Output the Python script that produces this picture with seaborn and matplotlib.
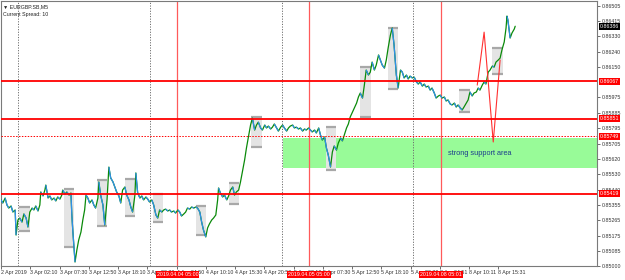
import numpy as np
import pandas as pd
import matplotlib
matplotlib.use("Agg")
import matplotlib.pyplot as plt
import matplotlib.transforms as mtransforms
from matplotlib.patches import Rectangle
from matplotlib.collections import LineCollection
import seaborn as sns

# ---------------- data (x = M5 bar index, y = EURGBP price) ----------------
bars = [0, 4, 9, 13, 17, 22, 26, 31, 33, 37, 41, 46, 50, 55, 59, 63, 68, 72, 76, 81,
        85, 87, 92, 96, 98, 103, 107, 111, 116, 120, 124, 129, 133, 135, 140, 144, 149, 153, 155, 157,
        162, 166, 170, 175, 179, 183, 186, 190, 194, 199, 203, 207, 212, 214, 218, 223, 227, 232, 236, 240,
        245, 249, 253, 258, 262, 266, 271, 275, 280, 284, 288, 293, 295, 299, 304, 308, 312, 317, 321, 325,
        330, 334, 339, 343, 347, 352, 356, 360, 365, 369, 373, 378, 382, 387, 391, 395, 400, 404, 408, 413,
        417, 422, 426, 430, 435, 439, 443, 448, 452, 456, 461, 465, 470, 474, 476, 480, 485, 489, 494, 498,
        502, 507, 511, 515, 520, 524, 529, 533, 537, 542, 546, 550, 555, 559, 563, 568, 572, 577, 581, 585,
        590, 594, 598, 603, 607, 612, 616, 620, 625, 629, 633, 638, 642, 646, 651, 655, 660, 664, 668, 673,
        677, 681, 686, 690, 695, 699, 703, 708, 712, 716, 721, 725, 729, 734, 738, 743, 747, 751, 756, 760,
        764, 769, 773, 778, 782, 786, 791, 795, 799, 804, 808, 812, 817, 821, 826, 830, 834, 839, 843, 847,
        852, 856, 860, 865, 869, 874, 878, 882, 887, 891, 895, 900, 904, 909, 913, 917, 922, 926, 930, 935,
        939, 943, 948, 952, 957, 961, 965, 970, 974, 978, 983, 987, 992, 996, 1000, 1005, 1009, 1013, 1018, 1022,
        1026, 1031, 1035, 1040, 1044, 1048, 1053, 1057, 1061, 1066, 1070, 1075, 1079, 1083, 1088, 1092, 1096, 1101, 1105, 1107,
        1109, 1114, 1118, 1123, 1125]
prices = [0.85382, 0.85364, 0.85393, 0.85353, 0.85335, 0.85347, 0.85312, 0.85324, 0.85179, 0.85266,
          0.85277, 0.85254, 0.85301, 0.85277, 0.85225, 0.85312, 0.85335, 0.85324, 0.85347, 0.85318,
          0.85353, 0.85428, 0.85405, 0.85439, 0.85468, 0.85393, 0.85405, 0.85382, 0.85393, 0.85376,
          0.85399, 0.85387, 0.85410, 0.85439, 0.85416, 0.85428, 0.85410, 0.85422, 0.85295, 0.85208,
          0.85023, 0.85093, 0.85150, 0.85197, 0.85266, 0.85324, 0.85410, 0.85393, 0.85364, 0.85382,
          0.85353, 0.85335, 0.85393, 0.85486, 0.85410, 0.85353, 0.85237, 0.85382, 0.85572, 0.85509,
          0.85486, 0.85457, 0.85428, 0.85405, 0.85364, 0.85439, 0.85457, 0.85410, 0.85382, 0.85341,
          0.85312, 0.85410, 0.85538, 0.85422, 0.85393, 0.85405, 0.85382, 0.85399, 0.85387, 0.85370,
          0.85382, 0.85353, 0.85295, 0.85277, 0.85324, 0.85312, 0.85324, 0.85329, 0.85318, 0.85324,
          0.85312, 0.85318, 0.85306, 0.85324, 0.85312, 0.85289, 0.85301, 0.85312, 0.85335, 0.85329,
          0.85341, 0.85335, 0.85341, 0.85335, 0.85312, 0.85254, 0.85208, 0.85168, 0.85220, 0.85243,
          0.85266, 0.85277, 0.85295, 0.85382, 0.85451, 0.85422, 0.85399, 0.85410, 0.85382, 0.85405,
          0.85439, 0.85457, 0.85410, 0.85428, 0.85439, 0.85486, 0.85555, 0.85613, 0.85682, 0.85757,
          0.85815, 0.85855, 0.85786, 0.85815, 0.85832, 0.85798, 0.85786, 0.85815, 0.85798, 0.85809,
          0.85792, 0.85803, 0.85821, 0.85798, 0.85780, 0.85803, 0.85815, 0.85798, 0.85780, 0.85798,
          0.85809, 0.85815, 0.85798, 0.85803, 0.85792, 0.85798, 0.85780, 0.85792, 0.85786, 0.85798,
          0.85786, 0.85775, 0.85786, 0.85769, 0.85798, 0.85757, 0.85728, 0.85746, 0.85682, 0.85642,
          0.85572, 0.85659, 0.85694, 0.85670, 0.85711, 0.85740, 0.85723, 0.85757, 0.85798, 0.85821,
          0.85861, 0.85890, 0.85913, 0.85942, 0.85977, 0.86000, 0.85971, 0.86046, 0.86133, 0.86104,
          0.86121, 0.86179, 0.86133, 0.86162, 0.86220, 0.86191, 0.86162, 0.86144, 0.86191, 0.86260,
          0.86335, 0.86376, 0.86277, 0.86104, 0.86029, 0.86133, 0.86121, 0.86087, 0.86104, 0.86081,
          0.86098, 0.86087, 0.86092, 0.86064, 0.86052, 0.86064, 0.86040, 0.86052, 0.86035, 0.86040,
          0.86017, 0.86029, 0.86000, 0.85971, 0.85983, 0.85988, 0.85971, 0.85977, 0.85954, 0.85960,
          0.85936, 0.85931, 0.85942, 0.85919, 0.85931, 0.85913, 0.85902, 0.85919, 0.85942, 0.85960,
          0.86006, 0.85983, 0.86000, 0.86006, 0.86029, 0.86017, 0.86046, 0.86064, 0.86052, 0.86121,
          0.86133, 0.86156, 0.86150, 0.86179, 0.86191, 0.86202, 0.86249, 0.86295, 0.86376, 0.86445,
          0.86422, 0.86318, 0.86347, 0.86370, 0.86386]

# session range boxes: start bar, end bar, high, low
box_start = [39, 138, 210, 271, 332, 426, 498, 546, 712, 786, 847, 1002, 1075]
box_end = [63, 159, 232, 293, 354, 448, 520, 572, 734, 810, 869, 1026, 1099]
box_high = [0.85341, 0.85445, 0.85497, 0.85503, 0.85416, 0.85347, 0.85480, 0.85861, 0.85803, 0.86150, 0.86376, 0.86017, 0.86260]
box_low = [0.85202, 0.85110, 0.85231, 0.85289, 0.85254, 0.85179, 0.85358, 0.85688, 0.85555, 0.85861, 0.86023, 0.85890, 0.86110]

# horizontal levels
level_prices = [0.86067, 0.85851, 0.85419]
level_labels = ["0.86067", "0.85851", "0.85419"]
dotted_level = 0.85749
current_price = 0.86386

# support zone
zone_start, zone_end = 618, 1304
zone_low, zone_high = 0.85566, 0.85740
zone_text = "strong support area"
zone_text_bar = 1048

# vertical lines
day_separators = [38, 326, 614, 902]
marker_bars = [386, 674, 962]
marker_labels = ["2019.04.04 05:00", "2019.04.05 05:00", "2019.04.08 05:01"]

# hand drawn red lines
red_line_bars = [1042, 1057, 1077, 1092]
red_line_prices = [0.86046, 0.86352, 0.85717, 0.86191]

# axes ticks
x_tick_bars = [i * 64 for i in range(18)]
x_tick_labels = ["2 Apr 2019", "3 Apr 02:10", "3 Apr 07:30", "3 Apr 12:50", "3 Apr 18:10",
                 "3 Apr 23:30", "4 Apr 04:50", "4 Apr 10:10", "4 Apr 15:30", "4 Apr 20:50",
                 "5 Apr 02:10", "5 Apr 07:30", "5 Apr 12:50", "5 Apr 18:10", "5 Apr 23:30",
                 "8 Apr 04:51", "8 Apr 10:11", "8 Apr 15:31"]
y_ticks = [0.85000, 0.85085, 0.85175, 0.85265, 0.85355, 0.85440, 0.85530, 0.85620, 0.85705,
           0.85795, 0.85885, 0.85975, 0.86150, 0.86240, 0.86330, 0.86415, 0.86505]

# ---------------- drawing ----------------
sns.set_style("white")
plt.rcParams["font.family"] = ["Liberation Sans", "DejaVu Sans"]
FS = 3.8

fig = plt.figure(figsize=(6.25, 2.8), dpi=100)
ax = fig.add_axes([0.0016, 0.05, 0.9536, 0.9464])

df = pd.DataFrame({"bar": bars, "price": prices})

# support zone
ax.add_patch(Rectangle((zone_start, zone_low), zone_end - zone_start, zone_high - zone_low,
                       facecolor="#98FB98", edgecolor="none", zorder=1))
ax.text(zone_text_bar, (zone_low + zone_high) / 2, zone_text,
        fontsize=5.3, color="#1C3D8C", ha="center", va="center", zorder=2)

# session boxes
for s, e, hi, lo in zip(box_start, box_end, box_high, box_low):
    ax.add_patch(Rectangle((s, lo), e - s, hi - lo, facecolor="#E4E4E4", edgecolor="none", zorder=1.2))
    ax.plot([s, e], [hi, hi], color="#A8A8A8", lw=1.6, zorder=1.3, solid_capstyle="butt")
    ax.plot([s, e], [lo, lo], color="#A8A8A8", lw=1.6, zorder=1.3, solid_capstyle="butt")

# separators and markers
for b in day_separators:
    ax.axvline(b, color="#6E6E6E", lw=0.7, ls=(0, (1.2, 1.5)), zorder=1.5)
for b in marker_bars:
    ax.axvline(b, color="#FF5A5A", lw=0.9, zorder=1.5)

# horizontal levels
for p in level_prices:
    ax.axhline(p, color="#FF0000", lw=1.3, zorder=4)
ax.axhline(dotted_level, color="#FF0000", lw=0.7, ls=(0, (1.5, 1.5)), zorder=4)

# price line
sns.lineplot(data=df, x="bar", y="price", color="#0A8A0A", lw=0.9, ax=ax, zorder=3,
             estimator=None, sort=False)
pts = np.column_stack([df["bar"].to_numpy(), df["price"].to_numpy()])
segs = np.stack([pts[:-1], pts[1:]], axis=1)
down = pts[1:, 1] < pts[:-1, 1]
ax.add_collection(LineCollection(segs[down], colors="#2F8FEA", linewidths=0.9, zorder=3.1))

# hand drawn red lines
ax.plot(red_line_bars, red_line_prices, color="#FF3030", lw=0.8, zorder=3.5)

# axes setup
ax.set_xlim(0, 1304)
ax.set_ylim(0.85000, 0.86532)
ax.set_xlabel("")
ax.set_ylabel("")
ax.yaxis.tick_right()
ax.set_yticks(y_ticks)
ax.set_yticklabels([f"{v:.5f}" for v in y_ticks])
ax.set_xticks(x_tick_bars)
ax.set_xticklabels(x_tick_labels, ha="left")
ax.tick_params(axis="both", labelsize=FS, colors="#333333", length=2, width=0.5, pad=1.2)
ax.tick_params(axis="y", right=True, left=False)
ax.tick_params(axis="x", bottom=True)
for s in ax.spines.values():
    s.set_color("#7A7A7A")
    s.set_linewidth(0.8)

ytrans = mtransforms.blended_transform_factory(ax.transAxes, ax.transData)
for p, lab in zip(level_prices, level_labels):
    ax.text(1.005, p, lab, transform=ytrans, fontsize=FS, color="white", va="center", ha="left",
            bbox=dict(facecolor="#FF0000", edgecolor="none", pad=0.6), clip_on=False, zorder=10)
ax.text(1.005, dotted_level, f"{dotted_level:.5f}", transform=ytrans, fontsize=FS, color="white",
        va="center", ha="left", bbox=dict(facecolor="#FF0000", edgecolor="none", pad=0.6),
        clip_on=False, zorder=10)
ax.text(1.005, current_price, f"{current_price:.5f}", transform=ytrans, fontsize=FS, color="white",
        va="center", ha="left", bbox=dict(facecolor="#000000", edgecolor="none", pad=0.6),
        clip_on=False, zorder=10)

xtrans = mtransforms.blended_transform_factory(ax.transData, ax.transAxes)
for b, lab in zip(marker_bars, marker_labels):
    ax.text(b, -0.033, lab, transform=xtrans, fontsize=FS, color="white", va="center", ha="center",
            bbox=dict(facecolor="#FF0000", edgecolor="none", pad=0.8), clip_on=False, zorder=10)

# header
ax.text(0.004, 0.988, "\u25BC EURGBP.SB,M5", transform=ax.transAxes, fontsize=FS, color="#222222",
        va="top", ha="left")
ax.text(0.004, 0.958, "Current Spread: 10", transform=ax.transAxes, fontsize=FS, color="#222222",
        va="top", ha="left")

fig.savefig("out.png", dpi=100, facecolor="white")
